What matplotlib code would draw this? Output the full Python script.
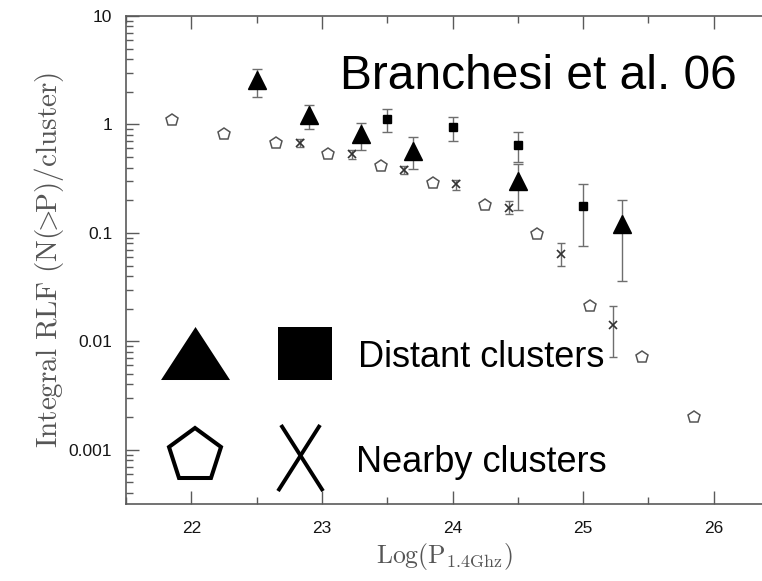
import matplotlib
matplotlib.use("Agg")
import matplotlib.pyplot as plt
from matplotlib.patches import Polygon, Rectangle
from matplotlib.ticker import FixedLocator, FixedFormatter, MultipleLocator, LogLocator, NullFormatter

# Distant clusters (triangles): log power, integral RLF, upper / lower error limits
tri_logp = [22.50, 22.90, 23.30, 23.70, 24.50, 25.30]
tri_rlf = [2.56, 1.22, 0.81, 0.57, 0.30, 0.12]
tri_hi = [3.26, 1.52, 1.04, 0.76, 0.43, 0.20]
tri_lo = [1.79, 0.91, 0.58, 0.385, 0.162, 0.036]

# Distant clusters (squares)
sq_logp = [23.50, 24.00, 24.50, 25.00]
sq_rlf = [1.13, 0.94, 0.645, 0.177]
sq_hi = [1.40, 1.18, 0.85, 0.28]
sq_lo = [0.86, 0.70, 0.45, 0.075]

# Nearby clusters (pentagons)
pent_logp = [21.85, 22.25, 22.65, 23.05, 23.45, 23.85, 24.25, 24.65, 25.05, 25.45, 25.85]
pent_rlf = [1.10, 0.82, 0.68, 0.53, 0.41, 0.29, 0.179, 0.098, 0.0212, 0.0071, 0.0020]

# Nearby clusters (crosses)
x_logp = [22.83, 23.23, 23.63, 24.03, 24.43, 24.83, 25.23]
x_rlf = [0.68, 0.53, 0.38, 0.28, 0.171, 0.064, 0.014]
x_hi = [0.74, 0.58, 0.41, 0.31, 0.196, 0.080, 0.021]
x_lo = [0.62, 0.48, 0.346, 0.25, 0.150, 0.049, 0.0071]

x_ticks = [22, 23, 24, 25, 26]
x_tick_labels = ["22", "23", "24", "25", "26"]
y_ticks = [10, 1, 0.1, 0.01, 0.001]
y_tick_labels = ["10", "1", "0.1", "0.01", "0.001"]

plt.rcParams["mathtext.fontset"] = "cm"

fig = plt.figure(figsize=(7.62, 5.81), dpi=100)
ax = fig.add_axes([0.1654, 0.1325, 0.8346, 0.84])

ax.set_yscale("log")
ax.set_xlim(21.5, 26.37)
ax.set_ylim(10 ** -3.5, 10)

spine_col = "#5a5a5a"
err_col = "#6e6e6e"


def asym(vals, hi, lo):
    return [[v - l for v, l in zip(vals, lo)], [h - v for v, h in zip(vals, hi)]]


ax.errorbar(tri_logp, tri_rlf, yerr=asym(tri_rlf, tri_hi, tri_lo), fmt="none",
            ecolor=err_col, elinewidth=1.0, capsize=3.5, capthick=1.0, zorder=2)
ax.plot(tri_logp, tri_rlf, ls="none", marker="^", ms=12.5, color="black", zorder=3)

ax.errorbar(sq_logp, sq_rlf, yerr=asym(sq_rlf, sq_hi, sq_lo), fmt="none",
            ecolor=err_col, elinewidth=1.0, capsize=3.5, capthick=1.0, zorder=2)
ax.plot(sq_logp, sq_rlf, ls="none", marker="s", ms=6, color="black", zorder=3)

ax.errorbar(x_logp, x_rlf, yerr=asym(x_rlf, x_hi, x_lo), fmt="none",
            ecolor=err_col, elinewidth=1.0, capsize=3.0, capthick=1.0, zorder=2)
ax.plot(x_logp, x_rlf, ls="none", marker="x", ms=6, mew=1.2, color="#333333", zorder=3)

ax.plot(pent_logp, pent_rlf, ls="none", marker="p", ms=9, mfc="white",
        mec="#555555", mew=1.1, zorder=3)

# Axes styling
for side in ("left", "bottom", "top"):
    ax.spines[side].set_color(spine_col)
    ax.spines[side].set_linewidth(1.2)
ax.spines["right"].set_visible(False)

ax.xaxis.set_major_locator(FixedLocator(x_ticks))
ax.xaxis.set_major_formatter(FixedFormatter(x_tick_labels))
ax.xaxis.set_minor_locator(MultipleLocator(0.5))
ax.yaxis.set_major_locator(FixedLocator(y_ticks))
ax.yaxis.set_major_formatter(FixedFormatter(y_tick_labels))
ax.yaxis.set_minor_locator(LogLocator(base=10, subs=range(2, 10), numticks=20))
ax.yaxis.set_minor_formatter(NullFormatter())

ax.tick_params(axis="x", which="both", direction="in", top=True, bottom=True,
               color=spine_col, width=1.0)
ax.tick_params(axis="x", which="major", length=9.5, pad=12)
ax.tick_params(axis="x", which="minor", length=5)
ax.tick_params(axis="y", which="both", direction="in", left=True, right=False,
               color=spine_col, width=1.0)
ax.tick_params(axis="y", which="major", length=9.5, pad=10)
ax.tick_params(axis="y", which="minor", length=5)
for lab in ax.get_xticklabels() + ax.get_yticklabels():
    lab.set_fontfamily("Liberation Sans")
    lab.set_fontsize(12.5)
    lab.set_color("#151515")

ax.set_ylabel(r"$\mathrm{Integral\ RLF\ (N(\!\!>\!\!P)/cluster)}$", fontsize=21,
              color="#555555", labelpad=2)
ax.set_xlabel(r"$\mathrm{Log(P_{1.4Ghz})}$", fontsize=18.5, color="#555555", labelpad=4)

# Annotation text
ax.text(0.3365, 0.8498, "Branchesi et al. 06", transform=ax.transAxes,
        fontfamily="Liberation Sans", fontsize=34.5, color="black", va="baseline")
ax.text(0.365, 0.2807, "Distant clusters", transform=ax.transAxes,
        fontfamily="Liberation Sans", fontsize=26, color="black", va="baseline")
ax.text(0.362, 0.066, "Nearby clusters", transform=ax.transAxes,
        fontfamily="Liberation Sans", fontsize=26, color="black", va="baseline")

# Key symbols (axes-fraction layout)
W, H = 636.0, 488.0


def fx(px):
    return (px - 126) / W


def fy(py):
    return (504 - py) / H


ax.add_patch(Polygon([(fx(161), fy(380)), (fx(230), fy(380)), (fx(195.5), fy(327))],
                     closed=True, facecolor="black", edgecolor="none",
                     transform=ax.transAxes, zorder=4))
ax.add_patch(Rectangle((fx(278), fy(380)), fx(332) - fx(278), fy(327) - fy(380),
                       facecolor="black", edgecolor="none", transform=ax.transAxes, zorder=4))
ax.plot([fx(195)], [fy(456)], marker="p", ms=40, mfc="white", mec="black", mew=2.9,
        transform=ax.transAxes, zorder=4)
ax.plot([fx(281), fx(323)], [fy(425), fy(491)], color="black", lw=2.8,
        transform=ax.transAxes, zorder=4, solid_capstyle="butt")
ax.plot([fx(320), fx(278)], [fy(425), fy(491)], color="black", lw=2.8,
        transform=ax.transAxes, zorder=4, solid_capstyle="butt")

fig.savefig("out.png", dpi=100)
